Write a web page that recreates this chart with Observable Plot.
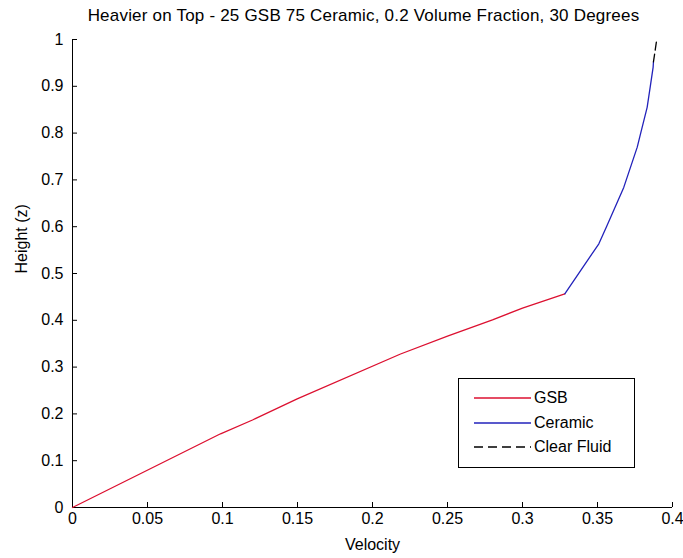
<!DOCTYPE html>
<html>
<head>
<meta charset="utf-8">
<script src="https://cdn.jsdelivr.net/npm/d3@7"></script>
<script src="https://cdn.jsdelivr.net/npm/@observablehq/plot@0.6"></script>
<style>
  html, body { margin: 0; padding: 0; background: #fff; }
  #wrap { position: relative; width: 683px; height: 558px; font-family: "Liberation Sans", Arial, sans-serif; color: #000; }
  #title { position: absolute; left: 0; width: 683px; top: 6px; text-align: center; font-size: 17px; letter-spacing: 0.2px; padding-left: 44px; box-sizing: border-box; white-space: nowrap; }
  #legend { position: absolute; left: 458px; top: 378px; width: 175px; height: 88px; border: 1px solid #000; background: #fff; font-size: 16px; }
  #legend .row { position: absolute; left: 15px; height: 20px; display: flex; align-items: center; }
  #legend svg { margin-right: 3px; }
</style>
</head>
<body>
<div id="wrap">
  <div id="chart"></div>
  <div id="title">Heavier on Top - 25 GSB 75 Ceramic, 0.2 Volume Fraction, 30 Degrees</div>
  <div id="legend"></div>
</div>
<script>
// Data
const gsbVelocity     = [0, 0.0987, 0.12, 0.1498, 0.2187, 0.25, 0.28, 0.30, 0.3282];
const gsbHeight       = [0, 0.1575, 0.187, 0.232, 0.328, 0.366, 0.401, 0.426, 0.4566];
const ceramicVelocity = [0.3282, 0.3509, 0.356, 0.3675, 0.3765, 0.3788, 0.3831, 0.3852, 0.3871, 0.3873];
const ceramicHeight   = [0.4566, 0.5635, 0.60, 0.684, 0.77, 0.80, 0.855, 0.90, 0.941, 0.952];
const fluidVelocity   = [0.3873, 0.3895];
const fluidHeight     = [0.952, 1.0];
const xTicks = [0, 0.05, 0.1, 0.15, 0.2, 0.25, 0.3, 0.35, 0.4];
const yTicks = [0, 0.1, 0.2, 0.3, 0.4, 0.5, 0.6, 0.7, 0.8, 0.9, 1];
const seriesNames  = ["GSB", "Ceramic", "Clear Fluid"];
const seriesColors = ["#dc1030", "#2222bb", "#000000"];

const toRows = (vs, zs, s) => vs.map((v, i) => ({v, z: zs[i], s}));
const gsb = toRows(gsbVelocity, gsbHeight, seriesNames[0]);
const ceramic = toRows(ceramicVelocity, ceramicHeight, seriesNames[1]);
const fluid = toRows(fluidVelocity, fluidHeight, seriesNames[2]);

const W = 683, H = 558, mL = 72, mR = 11, mT = 39, mB = 51;
const tickLenX = 5 / (W - mL - mR) * 0.4;
const tickLenY = 5 / (H - mT - mB);

const chart = Plot.plot({
  width: W, height: H,
  marginLeft: mL, marginRight: mR, marginTop: mT, marginBottom: mB,
  style: {fontFamily: '"Liberation Sans", Arial, sans-serif', fontSize: "16px", color: "#000", background: "#fff", overflow: "visible"},
  x: {domain: [0, 0.4]},
  y: {domain: [0, 1]},
  marks: [
    Plot.axisX(xTicks, {tickSize: 0, tickPadding: 5, tickFormat: d => String(d), label: null, fontSize: 16}),
    Plot.axisY(yTicks, {tickSize: 0, tickPadding: 9, tickFormat: d => String(d), label: null, fontSize: 16}),
    Plot.ruleX(xTicks, {x: d => d, y1: 0, y2: tickLenY, stroke: "#000"}),
    Plot.ruleY(yTicks, {y: d => d, x1: 0, x2: tickLenX, stroke: "#000"}),
    Plot.ruleY([0], {stroke: "#000"}),
    Plot.ruleX([0], {stroke: "#000"}),
    Plot.line(gsb, {x: "v", y: "z", stroke: seriesColors[0], strokeWidth: 1.3}),
    Plot.line(ceramic, {x: "v", y: "z", stroke: seriesColors[1], strokeWidth: 1.3}),
    Plot.line(fluid, {x: "v", y: "z", stroke: seriesColors[2], strokeWidth: 1.3, strokeDasharray: "8,4"}),
    Plot.text(["Velocity"], {frameAnchor: "bottom", dy: 42, text: d => d, fontSize: 16}),
    Plot.text(["Height (z)"], {frameAnchor: "left", dx: -51, rotate: -90, text: d => d, fontSize: 16})
  ]
});
document.getElementById("chart").appendChild(chart);

// Legend
const legend = document.getElementById("legend");
seriesNames.forEach((name, i) => {
  const row = document.createElement("div");
  row.className = "row";
  row.style.top = (9 + i * 24.5) + "px";
  const dash = i === 2 ? ' stroke-dasharray="9,5"' : "";
  row.innerHTML = `<svg width="57" height="4"><line x1="0" y1="2" x2="57" y2="2" stroke="${seriesColors[i]}" stroke-width="1.3"${dash}/></svg><span>${name}</span>`;
  legend.appendChild(row);
});
</script>
</body>
</html>
